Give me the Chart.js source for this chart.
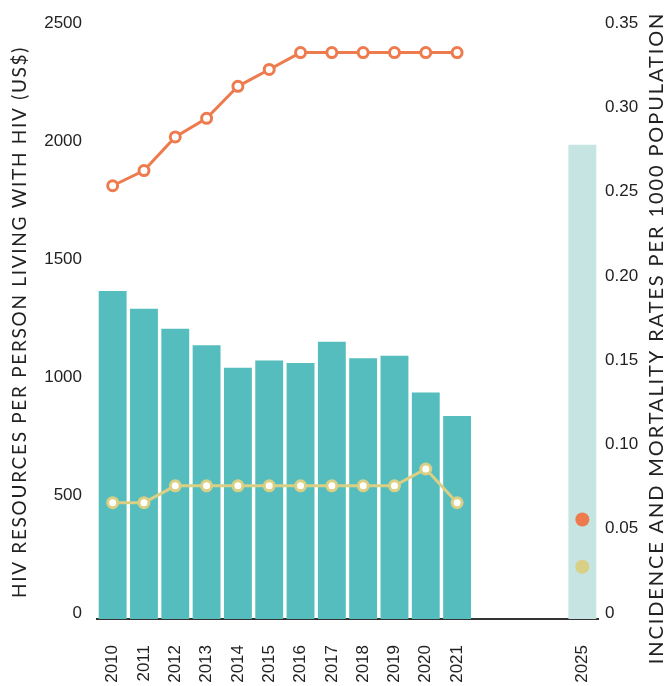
<!DOCTYPE html>
<html>
<head>
<meta charset="utf-8">
<script src="https://cdn.jsdelivr.net/npm/chart.js@4"></script>
<style>
  html, body { margin: 0; padding: 0; background: #fff; }
  #wrap { width: 672px; height: 686px; }
</style>
</head>
<body>
<div id="wrap"><canvas id="hivChart" width="672" height="686"></canvas></div>
<script>
// categories (2022-2024 left empty, 2025 is the target)
const years = ['2010', '2011', '2012', '2013', '2014', '2015', '2016', '2017', '2018', '2019', '2020', '2021', '', '', '', '2025'];

// HIV resources per person living with HIV (US$), left axis
const resources = [1390, 1315, 1230, 1160, 1065, 1095, 1085, 1175, 1105, 1115, 960, 860, null, null, null, 2010];

// rates per 1000 population, right axis
const incidence = [0.257, 0.266, 0.286, 0.297, 0.316, 0.326, 0.336, 0.336, 0.336, 0.336, 0.336, 0.336, null, null, null, 0.059];
const mortality = [0.069, 0.069, 0.079, 0.079, 0.079, 0.079, 0.079, 0.079, 0.079, 0.079, 0.089, 0.069, null, null, null, 0.031];

const leftTicks = [0, 500, 1000, 1500, 2000, 2500];
const rightTicks = [0, 0.05, 0.10, 0.15, 0.20, 0.25, 0.30, 0.35];

const COLORS = {
    teal: '#55bdbd',
    tealLight: '#c5e4e2',
    orange: '#ee7b4e',
    yellow: '#d9cf85',
    text: '#222222'
};

const TARGET = years.length - 1;
const tickFont = { family: '"Liberation Sans", Arial, sans-serif', size: 17 };

function pointFill(color) {
    return ctx => ctx.dataIndex === TARGET ? color : '#ffffff';
}

// vertical axis titles, both reading bottom to top
const axisTitles = {
    id: 'axisTitles',
    afterDraw(chart) {
        const { ctx, chartArea } = chart;
        const mid = (chartArea.top + chartArea.bottom) / 2;
        ctx.save();
        ctx.fillStyle = COLORS.text;
        ctx.textAlign = 'center';
        ctx.textBaseline = 'middle';

        ctx.save();
        ctx.font = '19px Lato, "Open Sans", sans-serif';
        ctx.letterSpacing = '1.7px';
        ctx.translate(20, mid - 2);
        ctx.rotate(-Math.PI / 2);
        ctx.fillText('HIV RESOURCES PER PERSON LIVING WITH HIV (US$)', 0, 0);
        ctx.restore();

        ctx.save();
        ctx.font = '20px Lato, "Open Sans", sans-serif';
        ctx.letterSpacing = '1.9px';
        ctx.translate(657, mid + 14);
        ctx.rotate(-Math.PI / 2);
        ctx.fillText('INCIDENCE AND MORTALITY RATES PER 1000 POPULATION', 0, 0);
        ctx.restore();

        ctx.restore();
    }
};

const ctx = document.getElementById('hivChart').getContext('2d');

new Chart(ctx, {
    type: 'bar',
    data: {
        labels: years,
        datasets: [
            {
                type: 'line',
                label: 'Incidence',
                data: incidence,
                yAxisID: 'yRate',
                borderColor: COLORS.orange,
                borderWidth: 3,
                pointRadius: ctx => ctx.dataIndex === TARGET ? 7 : 5,
                pointBorderWidth: ctx => ctx.dataIndex === TARGET ? 0 : 3,
                pointBorderColor: COLORS.orange,
                pointBackgroundColor: pointFill(COLORS.orange),
                spanGaps: false,
                order: 0
            },
            {
                type: 'line',
                label: 'Mortality',
                data: mortality,
                yAxisID: 'yRate',
                borderColor: COLORS.yellow,
                borderWidth: 3,
                pointRadius: ctx => ctx.dataIndex === TARGET ? 7 : 5,
                pointBorderWidth: ctx => ctx.dataIndex === TARGET ? 0 : 3,
                pointBorderColor: COLORS.yellow,
                pointBackgroundColor: pointFill(COLORS.yellow),
                spanGaps: false,
                order: 1
            },
            {
                label: 'Resources per PLHIV',
                data: resources,
                yAxisID: 'yRes',
                backgroundColor: resources.map((v, i) => i === TARGET ? COLORS.tealLight : COLORS.teal),
                categoryPercentage: 1,
                barPercentage: 0.89,
                order: 2
            }
        ]
    },
    options: {
        responsive: false,
        animation: false,
        layout: { padding: { top: 29, bottom: 0, left: 0, right: 0 } },
        plugins: {
            legend: { display: false },
            tooltip: { enabled: false }
        },
        scales: {
            x: {
                grid: { display: false, drawTicks: false },
                border: { display: true, color: '#333333', width: 2 },
                ticks: {
                    autoSkip: false,
                    maxRotation: 90,
                    minRotation: 90,
                    padding: 26,
                    color: COLORS.text,
                    font: tickFont
                },
                afterFit(scale) { scale.height = 67; }
            },
            yRes: {
                position: 'left',
                min: 0,
                max: 2500,
                grid: { display: false, drawTicks: false },
                border: { display: false },
                afterBuildTicks(scale) { scale.ticks = leftTicks.map(v => ({ value: v })); },
                ticks: {
                    padding: 15,
                    labelOffset: -6,
                    color: COLORS.text,
                    font: tickFont,
                    callback: v => String(v)
                },
                afterFit(scale) { scale.width = 97; }
            },
            yRate: {
                position: 'right',
                min: 0,
                max: 0.35,
                grid: { display: false, drawTicks: false },
                border: { display: false },
                afterBuildTicks(scale) { scale.ticks = rightTicks.map(v => ({ value: v })); },
                ticks: {
                    padding: 7,
                    labelOffset: -6,
                    color: COLORS.text,
                    font: tickFont,
                    callback: v => v === 0 ? '0' : v.toFixed(2)
                },
                afterFit(scale) { scale.width = 74; }
            }
        }
    },
    plugins: [axisTitles]
});
</script>
</body>
</html>
